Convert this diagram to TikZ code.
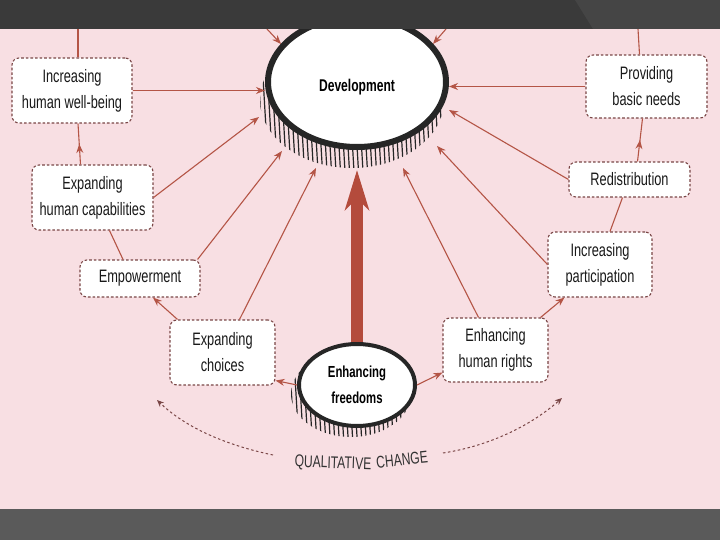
\documentclass[tikz,border=0pt]{standalone}
\usepackage{fontspec}
\setmainfont{Liberation Sans}[FakeStretch=0.71]
\usetikzlibrary{shapes.geometric,arrows.meta,decorations.markings,calc}
\definecolor{bgpink}{HTML}{F8DFE3}
\definecolor{bandtop}{HTML}{3A3A3A}
\definecolor{bandtoplight}{HTML}{454545}
\definecolor{bandbot}{HTML}{5A5A5A}
\definecolor{arrc}{HTML}{B45546}
\definecolor{bigc}{HTML}{B44B3C}
\definecolor{boxc}{HTML}{7A4646}
\begin{document}
\begin{tikzpicture}[x=1pt,y=-1pt,
  box/.style={draw=boxc, line width=1.1pt, dash pattern=on 2.6pt off 2pt,
    rounded corners=7pt, fill=white, inner sep=0pt, align=center,
    font=\fontsize{18}{26}\selectfont, text=black!90},
  lnk/.style={draw=arrc, line width=1.1pt},
  arr/.style={lnk, -{Stealth[length=9pt,width=7pt]}},
  midarr/.style={lnk, postaction={decorate}, decoration={markings,
    mark=at position #1 with {\arrow{Stealth[length=9pt,width=7pt]}}}},
  devnode/.style={ellipse, draw=black!85, line width=6pt, fill=white,
    minimum width=178pt, minimum height=130pt, inner sep=0pt},
  devtext/.style={inner sep=0pt, font=\bfseries\fontsize{17}{18}\selectfont},
  freenode/.style={ellipse, draw=black!85, line width=4pt, fill=white,
    minimum width=116pt, minimum height=82pt, inner sep=0pt, align=center,
    font=\bfseries\fontsize{16}{26}\selectfont},
  hatch/.style={line width=1.2pt, black!85},
  qcarr/.style={draw=boxc, line width=1pt, dash pattern=on 2.5pt off 2.5pt,
    -{Stealth[length=7pt,width=6pt]}},
  qctext/.style={font=\fontsize{17}{20}\selectfont, text=black!80, inner sep=0pt}
]
\useasboundingbox (0,0) rectangle (720,540);
\fill[bgpink] (0,0) rectangle (720,540);

% hatching shadows
\begin{scope}
  \clip (352,100) ellipse [x radius=92, y radius=68];
  \foreach \i in {0,...,50} \draw[hatch] ({244+\i*4.5},60) -- ++(7,120);
\end{scope}
\begin{scope}
  \clip (351,394) ellipse [x radius=60, y radius=43];
  \foreach \i in {0,...,36} \draw[hatch] ({276+\i*4.5},360) -- ++(5,85);
\end{scope}

% main nodes
\node[devnode] (dev) at (357,82) {};
\node[devtext] (devlabel) at (357,87) {Development};
\node[freenode] (free) at (357,385) {Enhancing\\freedoms};

\node[box, minimum width=120pt, minimum height=65pt] (wellbeing) at (72,90.5) {Increasing\\human well-being};
\node[box, minimum width=121pt, minimum height=65pt] (capab) at (92.5,197.5) {Expanding\\human capabilities};
\node[box, minimum width=120pt, minimum height=37pt] (empow) at (140,278.5) {Empowerment};
\node[box, minimum width=105pt, minimum height=65pt] (choices) at (222.5,352.5) {Expanding\\choices};
\node[box, minimum width=121pt, minimum height=63pt] (needs) at (646.5,86.5) {Providing\\basic needs};
\node[box, minimum width=121pt, minimum height=35pt] (redis) at (629.5,179.5) {Redistribution};
\node[box, minimum width=104pt, minimum height=65pt] (partic) at (600,264.5) {Increasing\\participation};
\node[box, minimum width=105pt, minimum height=64pt] (rights) at (495.5,350) {Enhancing\\human rights};

% arrow end points on the development shadow
\coordinate (tB) at (259,117);
\coordinate (tC) at (282,151);
\coordinate (tD) at (316,168);
\coordinate (tF) at (449,110);
\coordinate (tG) at (437,146);
\coordinate (tH) at (403,168);
\coordinate (tBig) at (359,170);
\coordinate (topL) at (267,29);
\coordinate (topLe) at (281,44);
\coordinate (topR) at (446,29);
\coordinate (topRe) at (433,44);
\coordinate (upL) at (78,29);
\coordinate (upR) at (638,29);

% arrows into development
\draw[arr] (wellbeing.east) -- (wellbeing.east -| dev.west);
\draw[arr] (capab.east) -- (tB);
\draw[arr] ($(empow.north east)+(-3,0)$) -- (tC);
\draw[arr] ($(choices.north)+(17,0)$) -- (tD);
\draw[arr] (needs.west) -- (needs.west -| dev.east);
\draw[arr] (redis.west) -- (tF);
\draw[arr] (partic.west) -- (tG);
\draw[arr] ($(rights.north)+(-17,0)$) -- (tH);
\draw[arr] (topL) -- (topLe);
\draw[arr] (topR) -- (topRe);

% chain arrows
\draw[midarr=0.5] ($(capab.north)+(-12,0)$) -- ($(wellbeing.south)+(6,0)$);
\draw[lnk] ($(empow.north)+(-17,0)$) -- ($(capab.south)+(17,0)$);
\draw[arr] ($(choices.north)+(-45,0)$) -- ($(empow.south)+(13,0)$);
\draw[arr] (free.west) -- ($(choices.south east)+(0,-5)$);
\draw[arr] (free.east) -- ($(rights.south west)+(0,-10)$);
\draw[arr] ($(rights.north east)+(-8,0)$) -- ($(partic.south west)+(17,0)$);
\draw[lnk] ($(partic.north)+(10,0)$) -- ($(redis.south)+(-7,0)$);
\draw[midarr=0.5] ($(redis.north)+(8,0)$) -- ($(needs.south)+(-4,0)$);
\draw[lnk] ($(wellbeing.north)+(6,0)$) -- (upL);
\draw[lnk] ($(needs.north)+(-7,0)$) -- (upR);

% big arrow
\draw[draw=bigc, line width=12pt, -{Stealth[length=40pt,width=24pt,inset=12pt]}] (free.north) -- (free.north |- tBig);

% qualitative change
\node[qctext, rotate=-2] (q1) at (333,464) {QUALITATIVE};
\node[qctext, rotate=6] (q2) at (402,460) {CHANGE};
\coordinate (qlS) at (273,455);
\coordinate (qlE) at (157,400);
\coordinate (qrS) at (443,453);
\coordinate (qrE) at (562,398);
\draw[qcarr] (qlS) .. controls (225,445) and (185,427) .. (qlE);
\draw[qcarr] (qrS) .. controls (495,445) and (535,422) .. (qrE);

% bands
\fill[bandtop] (0,0) rectangle (720,29);
\fill[bandtoplight] (575,0) -- (720,0) -- (720,29) -- (593,29) -- cycle;
\fill[bandbot] (0,509) rectangle (720,540);
\end{tikzpicture}
\end{document}
